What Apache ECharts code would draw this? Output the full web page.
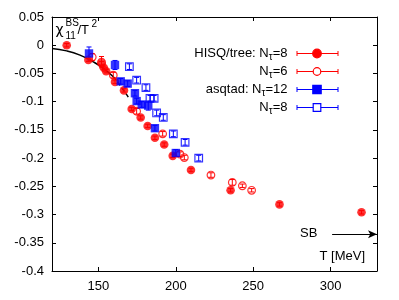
<!DOCTYPE html>
<html><head><meta charset="utf-8">
<script src="https://cdn.jsdelivr.net/npm/echarts@6/dist/echarts.min.js"></script>
<style>html,body{margin:0;padding:0;background:#fff}#c{width:399px;height:300px}</style>
</head><body><div id="c"></div>
<script>
// HRG curve
var hrgT = [120, 129.5, 138.1, 146.7, 153.2, 159.6];
var hrgChi = [-0.0057, -0.010, -0.0176, -0.0295, -0.041, -0.056];
var hrgDashT = [159.6, 164.5, 169.3];
var hrgDashChi = [-0.056, -0.073, -0.092];
// HISQ/tree Nt=8
var hisq8T = [129.5, 143.5, 152, 153.5, 155, 160.7, 166.5, 171.5, 177.3, 181.8, 186.5, 192.5, 198, 209.8, 235.4, 267, 320];
var hisq8Chi = [0.0, -0.026, -0.032, -0.040, -0.046, -0.065, -0.080, -0.113, -0.128, -0.143, -0.164, -0.176, -0.196, -0.221, -0.257, -0.282, -0.296];
var hisq8Err = [0.003, 0.003, 0.003, 0.003, 0.003, 0.003, 0.003, 0.003, 0.003, 0.003, 0.003, 0.003, 0.003, 0.003, 0.003, 0.003, 0.003];
// HISQ/tree Nt=6
var hisq6T = [146, 152, 159.6, 174.7, 191.5, 202.7, 205.5, 222.7, 236.5, 243, 249];
var hisq6Chi = [-0.021, -0.030, -0.053, -0.117, -0.157, -0.193, -0.199, -0.230, -0.243, -0.249, -0.257];
var hisq6Err = [0.006, 0.010, 0.005, 0.005, 0.004, 0.004, 0.004, 0.004, 0.005, 0.003, 0.003];
// asqtad Nt=12
var asq12T = [143.9, 160.7, 164.4, 168.9, 173.6, 174.7, 178, 182.2, 186.5, 200];
var asq12Chi = [-0.0146, -0.035, -0.064, -0.068, -0.085, -0.099, -0.105, -0.107, -0.147, -0.191];
var asq12Err = [0.0115, 0.008, 0.005, 0.005, 0.005, 0.005, 0.005, 0.008, 0.005, 0.006];
// asqtad Nt=8
var asq8T = [170, 174.7, 180.7, 183.3, 186, 187.6, 191.9, 198.4, 206, 214.8];
var asq8Chi = [-0.038, -0.062, -0.075, -0.094, -0.094, -0.120, -0.128, -0.157, -0.172, -0.200];
var asq8Err = [0.005, 0.005, 0.005, 0.005, 0.005, 0.005, 0.005, 0.005, 0.005, 0.005];
// SB limit
var sbChi = -0.335;
var sbT = [301, 330];
// ticks
var xTicks = [150, 200, 250, 300];

function zip(a, b) { return a.map(function (v, i) { return [v, b[i]]; }); }
function zip3(a, b, c) { return a.map(function (v, i) { return [v, b[i], c[i]]; }); }

var RED = '#ff0000', BLUE = '#0000ff';
var F = 'Liberation Sans, Arial, sans-serif';

function errSeries(T, C, E, color) {
  return {
    type: 'custom', data: zip3(T, C, E), z: 3, silent: true,
    renderItem: function (params, api) {
      var x = api.value(0), y = api.value(1), e = api.value(2);
      var p1 = api.coord([x, y + e]), p2 = api.coord([x, y - e]);
      var w = 2.5;
      return {
        type: 'group', children: [
          { type: 'line', shape: { x1: p1[0], y1: p1[1], x2: p2[0], y2: p2[1] }, style: { stroke: color, lineWidth: 1 } },
          { type: 'line', shape: { x1: p1[0] - w, y1: p1[1], x2: p1[0] + w, y2: p1[1] }, style: { stroke: color, lineWidth: 1 } },
          { type: 'line', shape: { x1: p2[0] - w, y1: p2[1], x2: p2[0] + w, y2: p2[1] }, style: { stroke: color, lineWidth: 1 } }
        ]
      };
    }
  };
}

var chart = echarts.init(document.getElementById('c'), null, { renderer: 'canvas' });
var L = 52, R = 22, T0 = 17, B = 29;
var axisCommon = {
  axisLine: { show: true, onZero: false, lineStyle: { color: '#000', width: 1 } },
  splitLine: { show: false }
};
var legendRows = [
  { label: 'HISQ/tree: N{s|τ}=8', color: RED, sym: 'circle', fill: true },
  { label: 'N{s|τ}=6', color: RED, sym: 'circle', fill: false },
  { label: 'asqtad: N{s|τ}=12', color: BLUE, sym: 'rect', fill: true },
  { label: 'N{s|τ}=8', color: BLUE, sym: 'rect', fill: false }
];
var graphics = [];
legendRows.forEach(function (r, i) {
  var y = 53.5 + i * 18;
  graphics.push({ type: 'text', x: 287.5, y: y, style: { text: r.label, font: '13px ' + F, fill: '#000', align: 'right', verticalAlign: 'middle', rich: { s: { fontSize: 10, fontFamily: F, padding: [7, 0, 0, 0] } } } });
  graphics.push({ type: 'line', shape: { x1: 297, y1: y, x2: 338, y2: y }, style: { stroke: r.color, lineWidth: 1 } });
  graphics.push({ type: 'line', shape: { x1: 297, y1: y - 2.5, x2: 297, y2: y + 2.5 }, style: { stroke: r.color, lineWidth: 1 } });
  graphics.push({ type: 'line', shape: { x1: 338, y1: y - 2.5, x2: 338, y2: y + 2.5 }, style: { stroke: r.color, lineWidth: 1 } });
  if (r.sym === 'circle') {
    graphics.push({ type: 'circle', shape: { cx: 317, cy: y, r: r.fill ? 4.3 : 3.8 }, style: { fill: r.fill ? r.color : '#fff', stroke: r.color, lineWidth: 1.2 } });
  } else {
    var h = r.fill ? 4.2 : 3.8;
    graphics.push({ type: 'rect', shape: { x: 317 - h, y: y - h, width: 2 * h, height: 2 * h }, style: { fill: r.fill ? r.color : '#fff', stroke: r.color, lineWidth: 1.2 } });
  }
});
// y label
graphics.push({ type: 'text', x: 55.5, y: 30.5, style: { text: 'χ', font: '14px DejaVu Sans, sans-serif', fill: '#000', verticalAlign: 'middle' } });
graphics.push({ type: 'text', x: 65.5, y: 23.5, style: { text: 'BS', font: '10px ' + F, fill: '#000', verticalAlign: 'middle' } });
graphics.push({ type: 'text', x: 65.5, y: 36.5, style: { text: '11', font: '10px ' + F, fill: '#000', verticalAlign: 'middle' } });
graphics.push({ type: 'text', x: 77.5, y: 30.5, style: { text: '/T', font: '13px ' + F, fill: '#000', verticalAlign: 'middle' } });
graphics.push({ type: 'text', x: 91.5, y: 24.5, style: { text: '2', font: '10px ' + F, fill: '#000', verticalAlign: 'middle' } });
// SB and T label
graphics.push({ type: 'text', x: 300, y: 233.5, style: { text: 'SB', font: '13px ' + F, fill: '#000', verticalAlign: 'middle' } });
graphics.push({ type: 'text', x: 365, y: 256, style: { text: 'T [MeV]', font: '13px ' + F, fill: '#000', align: 'right', verticalAlign: 'middle' } });

chart.setOption({
  animation: false,
  backgroundColor: '#fff',
  grid: { left: L, right: R, top: T0, bottom: B, containLabel: false },
  xAxis: [
    Object.assign({}, axisCommon, {
      type: 'value', min: 120, max: 330, position: 'bottom',
      axisTick: { show: true, inside: true, length: 4, lineStyle: { color: '#000' }, customValues: xTicks },
      axisLabel: { show: true, margin: 9, color: '#000', fontSize: 13, fontFamily: F, customValues: xTicks }
    }),
    Object.assign({}, axisCommon, {
      type: 'value', min: 120, max: 330, position: 'top',
      axisTick: { show: true, inside: true, length: 4, lineStyle: { color: '#000' }, customValues: xTicks },
      axisLabel: { show: false }
    })
  ],
  yAxis: [
    Object.assign({}, axisCommon, {
      type: 'value', min: -0.4, max: 0.05, interval: 0.05, position: 'left',
      axisTick: { show: true, inside: true, length: 4, lineStyle: { color: '#000' } },
      axisLabel: { show: true, margin: 8, color: '#000', fontSize: 13, fontFamily: F, formatter: function (v) { return String(parseFloat(v.toFixed(2))); } }
    }),
    Object.assign({}, axisCommon, {
      type: 'value', min: -0.4, max: 0.05, interval: 0.05, position: 'right',
      axisTick: { show: true, inside: true, length: 4, lineStyle: { color: '#000' } },
      axisLabel: { show: false }
    })
  ],
  series: [
    { type: 'line', data: zip(hrgT, hrgChi), smooth: true, showSymbol: false, symbol: 'none', lineStyle: { color: '#000', width: 1.5 }, z: 1, silent: true },
    { type: 'line', data: zip(hrgDashT, hrgDashChi), smooth: true, showSymbol: false, symbol: 'none', lineStyle: { color: '#000', width: 1.5, type: [4, 3] }, z: 1, silent: true },
    errSeries(hisq6T, hisq6Chi, hisq6Err, RED),
    errSeries(asq8T, asq8Chi, asq8Err, BLUE),
    { type: 'scatter', data: zip(hisq6T, hisq6Chi), symbol: 'circle', symbolSize: 7.6, itemStyle: { color: 'rgba(0,0,0,0)', borderColor: RED, borderWidth: 1.2 }, z: 4 },
    { type: 'scatter', data: zip(asq8T, asq8Chi), symbol: 'rect', symbolSize: 7.6, itemStyle: { color: 'rgba(0,0,0,0)', borderColor: BLUE, borderWidth: 1.2 }, z: 4 },
    errSeries(hisq8T, hisq8Chi, hisq8Err, RED),
    errSeries(asq12T, asq12Chi, asq12Err, BLUE),
    { type: 'scatter', data: zip(hisq8T, hisq8Chi), symbol: 'circle', symbolSize: 8.6, itemStyle: { color: RED }, z: 5 },
    { type: 'scatter', data: zip(asq12T, asq12Chi), symbol: 'rect', symbolSize: 8.4, itemStyle: { color: BLUE }, z: 5 },
    { type: 'line', data: [], markLine: { silent: true, symbol: ['none', 'arrow'], symbolSize: [6, 9], label: { show: false },
      lineStyle: { color: '#000', width: 1, type: 'solid' },
      data: [[{ coord: [sbT[0], sbChi] }, { coord: [sbT[1], sbChi] }]] } }
  ],
  graphic: graphics
});
</script></body></html>
